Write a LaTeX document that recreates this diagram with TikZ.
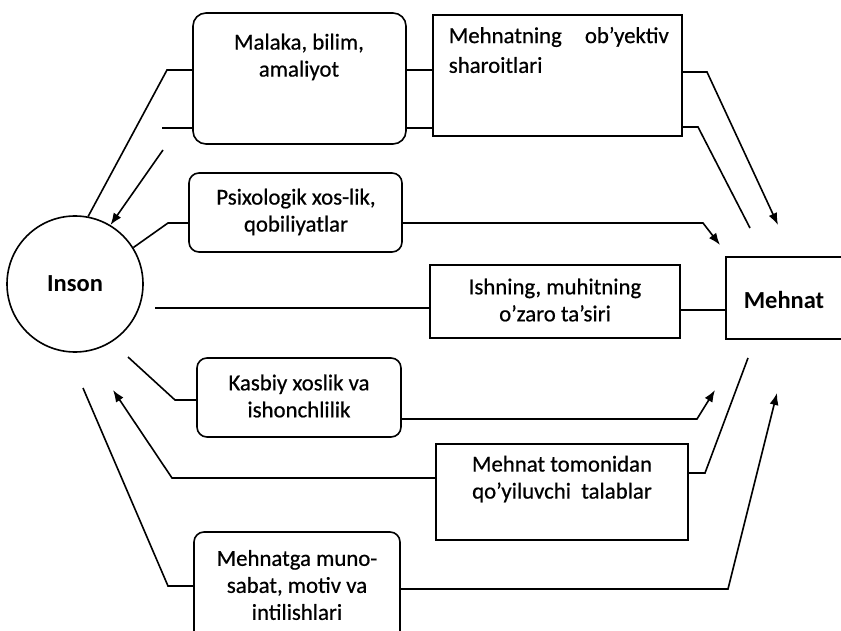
\documentclass[tikz,border=0pt]{standalone}
\usepackage{fontspec}
\setmainfont{Carlito}
\newfontfamily\medfont{Carlito}[FakeBold=0.6]
\usetikzlibrary{arrows.meta}
\begin{document}
\begin{tikzpicture}[x=1pt,y=-1pt,
  line width=1.6pt,
  rbox/.style={draw, rounded corners=10pt, inner sep=0pt, line width=1.6pt},
  sbox/.style={draw, inner sep=0pt, line width=1.6pt},
  txt/.style={align=center, font=\medfont\fontsize{22.8}{27}\selectfont, inner sep=0pt},
  btxt/.style={align=center, font=\fontsize{24.5}{27}\selectfont\bfseries, inner sep=0pt},
  arr/.style={-{Latex[length=12pt,width=9pt]}},
]
\useasboundingbox (0,0) rectangle (841,631);

% boxes
\node[draw, circle, minimum size=136pt, inner sep=0pt, btxt] (inson) at (75,284) {Inson};
\node[rbox, rounded corners=13pt, minimum width=213pt, minimum height=131pt] (malaka) at (299.5,78.5) {};
\node[sbox, minimum width=249pt, minimum height=121pt] (obyektiv) at (557.5,75.5) {};
\node[rbox, minimum width=213pt, minimum height=79pt] (psix) at (295.5,212.5) {};
\node[sbox, minimum width=250pt, minimum height=73pt] (ishning) at (555,301.5) {};
\node[sbox, minimum width=144pt, minimum height=82pt] (mehnat) at (798,298) {};
\node[rbox, minimum width=204pt, minimum height=79pt] (kasbiy) at (299,397.5) {};
\node[sbox, minimum width=252pt, minimum height=96pt] (talab) at (562,492) {};
\node[rbox, minimum width=206pt, minimum height=113pt] (munosabat) at (297,588.5) {};

% texts
\node[txt] (tmalaka) at (299,57) {Malaka, bilim,\\amaliyot};
\node[txt, anchor=west] (tob1) at (448,37) {\hbox to 220pt{Mehnatning\hfill ob’yektiv}};
\node[txt, anchor=west] (tob2) at (448,65) {sharoitlari};
\node[txt] (tpsix) at (296,212) {Psixologik xos-lik,\\qobiliyatlar};
\node[txt] (tish) at (555,300) {Ishning, muhitning\\o’zaro ta’siri};
\node[btxt] (tmeh) at (784,300) {Mehnat};
\node[txt] (tkas) at (299,396) {Kasbiy xoslik va\\ishonchlilik};
\node[txt] (ttal) at (562,479) {Mehnat tomonidan\\qo’yiluvchi\ \ talablar};
\node[txt] (tmun) at (297,585) {Mehnatga muno-\\sabat, motiv va\\intilishlari};

% connectors: Malaka
\draw (inson.79) -- (167,70) -- (malaka.west |- 0,70);
\draw (malaka.west |- 0,128) -- (162,128);
\draw[arr] (163,150) -- (inson.59);
\draw (malaka.east |- 0,70) -- (obyektiv.west |- 0,70);
\draw (malaka.east |- 0,128) -- (obyektiv.west |- 0,128);
\draw[arr] (obyektiv.east |- 0,72) -- (707,72) -- (778,225);
\draw (obyektiv.east |- 0,127) -- (698,127) -- (750,228);
% Psixologik
\draw (inson.32) -- (168,223) -- (psix.west |- 0,223);
\draw[arr] (psix.east |- 0,223) -- (703,223) -- (720,245);
% Ishning
\draw (155,308) -- (ishning.west |- 0,308);
\draw (ishning.east |- 0,310) -- (mehnat.west |- 0,310);
% Kasbiy
\draw (128,357) -- (175,400) -- (kasbiy.west |- 0,400);
\draw[arr] (kasbiy.east |- 0,419) -- (697,419) -- (715,390);
% Mehnat tomonidan
\draw[arr] (talab.west |- 0,478) -- (172,478) -- (113,390);
\draw (talab.east |- 0,473) -- (705,473) -- (748,358);
% Mehnatga munosabat
\draw (munosabat.west |- 0,586) -- (168,586) -- (83,388);
\draw[arr] (munosabat.east |- 0,589) -- (728,589) -- (777,393);
\end{tikzpicture}
\end{document}
